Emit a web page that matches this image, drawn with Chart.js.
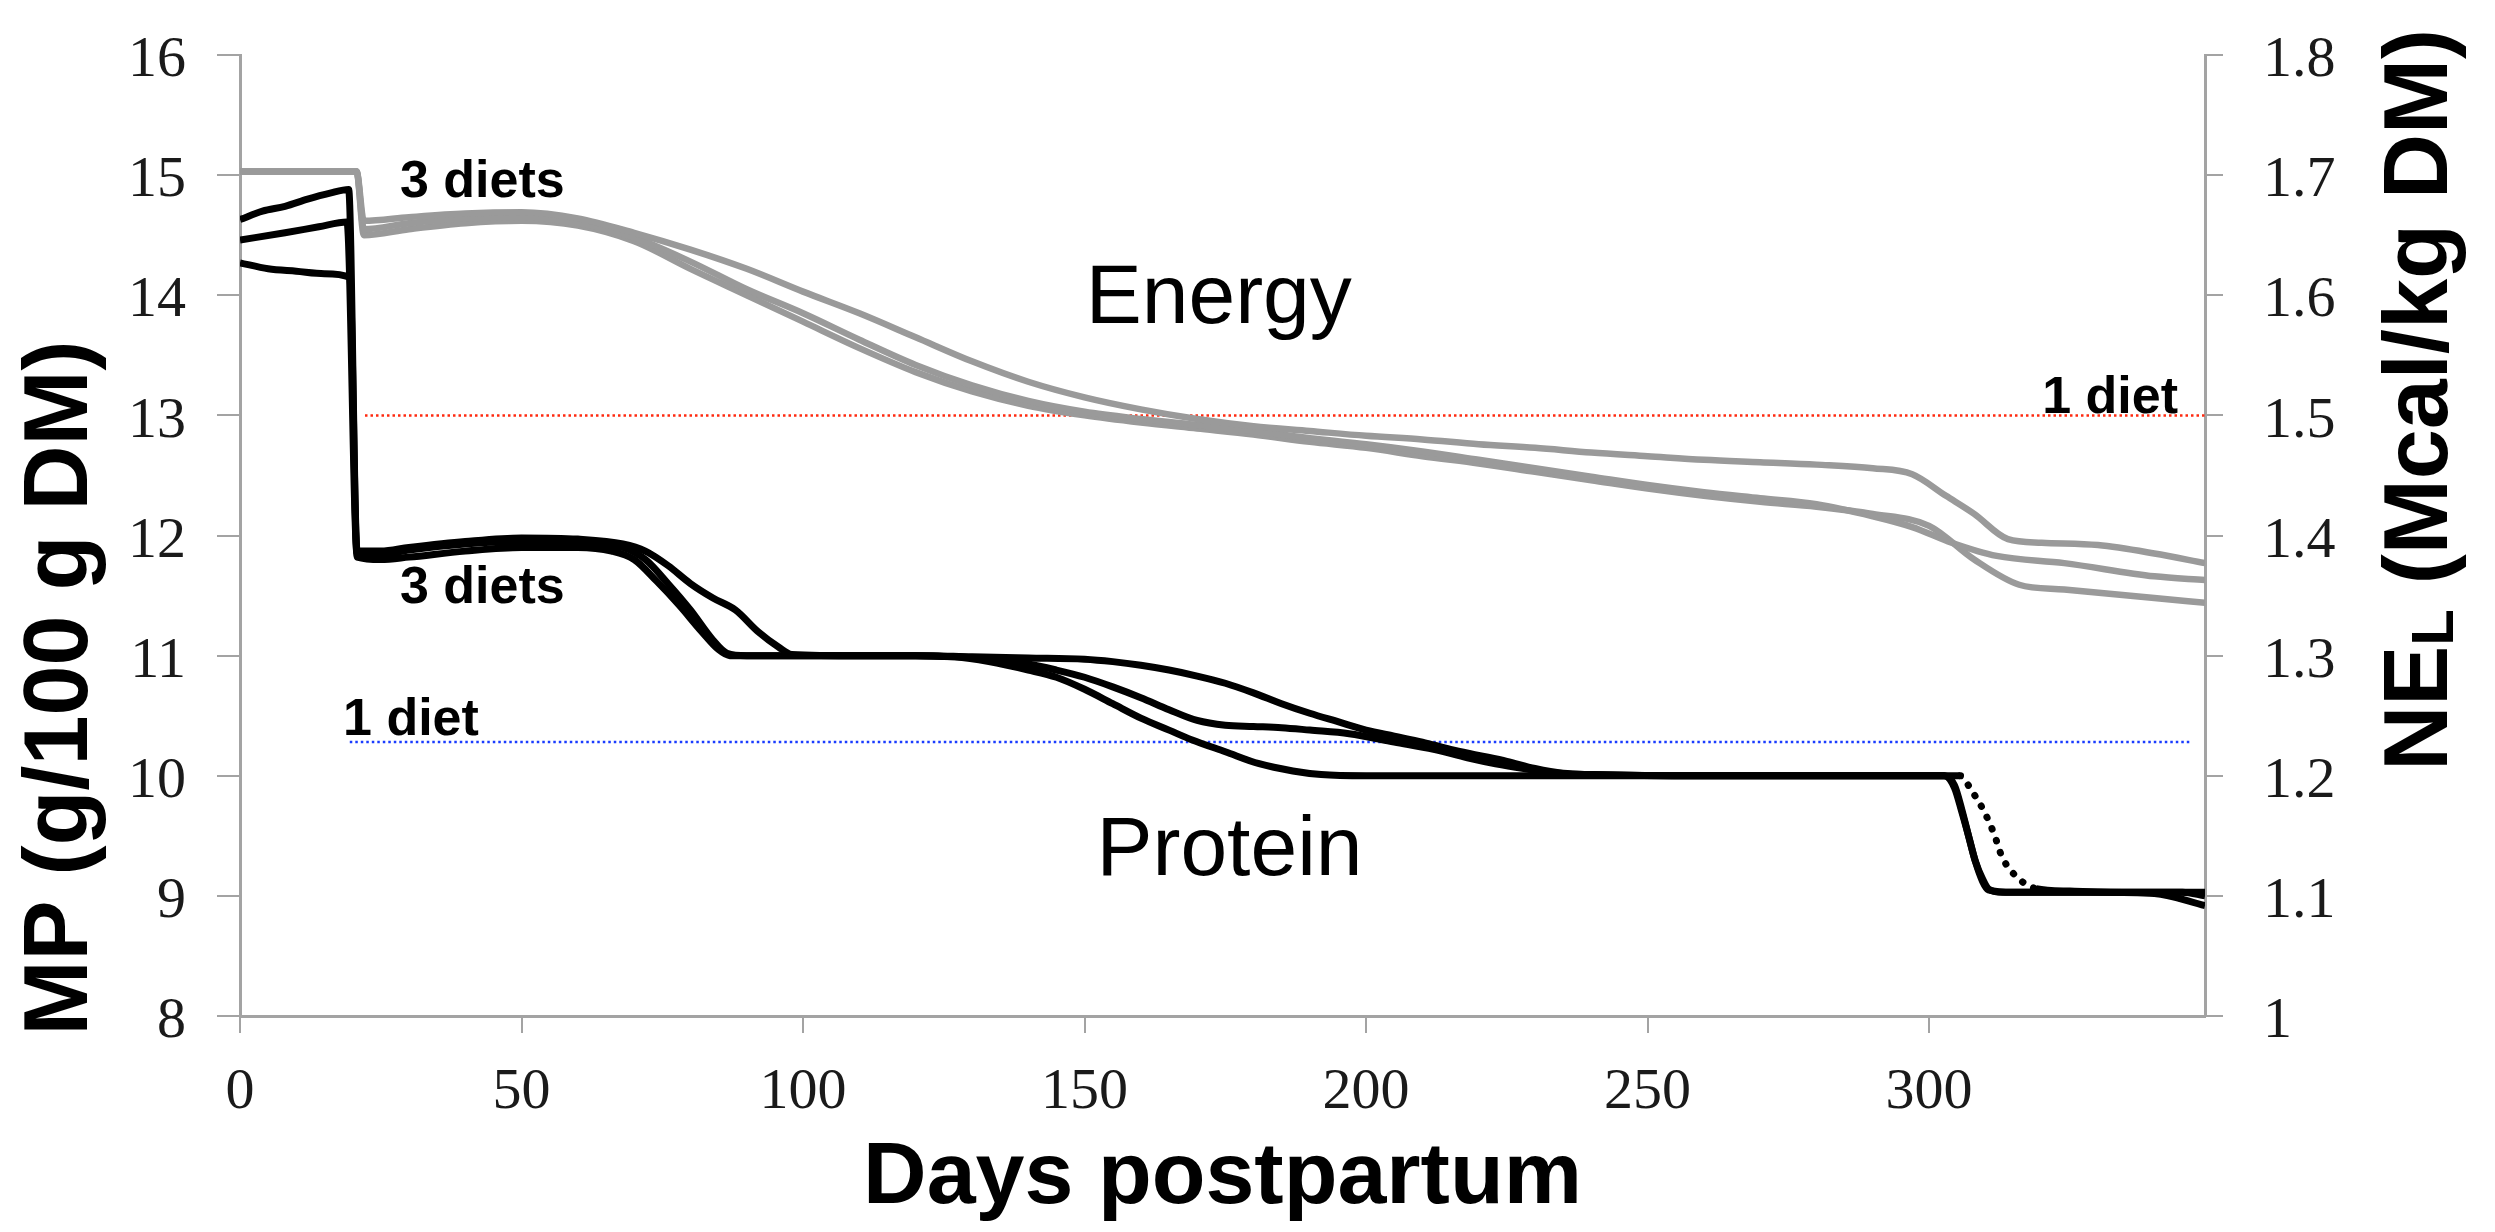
<!DOCTYPE html>
<html>
<head>
<meta charset="utf-8">
<script src="https://cdn.jsdelivr.net/npm/chart.js@4.4.1/dist/chart.umd.min.js"></script>
<style>
html,body{margin:0;padding:0;background:#fff;}
canvas{display:block;}
</style>
</head>
<body>
<canvas id="c" width="2495" height="1232"></canvas>
<script>
// ---------- DATA ----------
const xTicks = [0, 50, 100, 150, 200, 250, 300];
const leftTicks = [8, 9, 10, 11, 12, 13, 14, 15, 16];
const rightTicks = [1, 1.1, 1.2, 1.3, 1.4, 1.5, 1.6, 1.7, 1.8];

// Energy (NEL, Mcal/kg DM), three diets: [day, value]
const energyDiet1 = [[0,1.703],[20.7,1.703],[22,1.662],[30,1.665],[40,1.668],[50,1.669],[60,1.664],[70,1.652],[80,1.638],[90,1.622],[100,1.603],[110,1.585],[120,1.565],[130,1.545],[140,1.528],[150,1.515],[160,1.505],[170,1.497],[180,1.491],[190,1.487],[200,1.483],[210,1.48],[220,1.476],[230,1.473],[240,1.469],[250,1.466],[260,1.463],[270,1.461],[280,1.459],[290,1.456],[297,1.451],[303,1.433],[308,1.418],[314,1.397],[320,1.394],[330,1.392],[340,1.385],[349,1.377]];
const energyDiet2 = [[0,1.703],[20.7,1.703],[22,1.655],[30,1.66],[40,1.664],[50,1.665],[60,1.66],[70,1.648],[80,1.628],[90,1.605],[100,1.585],[110,1.563],[120,1.542],[130,1.525],[140,1.512],[150,1.503],[160,1.497],[170,1.492],[180,1.487],[190,1.481],[200,1.476],[210,1.47],[220,1.463],[230,1.456],[240,1.449],[250,1.442],[260,1.436],[270,1.431],[280,1.426],[290,1.416],[297,1.407],[304,1.394],[312,1.383],[324,1.377],[340,1.366],[349,1.363]];
const energyDiet3 = [[0,1.703],[20.7,1.703],[22,1.65],[30,1.655],[40,1.66],[50,1.662],[60,1.658],[70,1.645],[80,1.622],[90,1.6],[100,1.578],[110,1.556],[120,1.536],[130,1.52],[140,1.508],[150,1.5],[160,1.494],[170,1.489],[180,1.484],[190,1.478],[200,1.473],[210,1.466],[220,1.46],[230,1.453],[240,1.446],[250,1.439],[260,1.433],[270,1.428],[280,1.424],[290,1.418],[300,1.408],[308,1.38],[316,1.359],[324,1.355],[340,1.348],[349,1.344]];

// Protein (MP, g/100 g DM), three diets: [day, value]
const proteinDiet1 = [[0,14.63],[4,14.7],[8,14.74],[12,14.8],[16,14.85],[19.3,14.88],[20.8,11.87],[25,11.87],[30,11.9],[40,11.95],[50,11.98],[60,11.97],[68,11.93],[72,11.87],[76,11.75],[80,11.6],[84,11.48],[88,11.38],[92,11.2],[95.7,11.07],[98,11.01],[110,11.0],[120,11.0],[130,10.99],[140,10.98],[150,10.97],[155,10.95],[160,10.92],[165,10.88],[170,10.83],[175,10.77],[180,10.69],[185,10.6],[190,10.52],[195,10.45],[200,10.38],[205,10.33],[210,10.28],[215,10.22],[220,10.17],[225,10.12],[230,10.06],[235,10.02],[240,10.01],[260,10.0],[280,10.0],[300,10.0],[305.5,10.0],[307.5,9.88],[309.8,9.7],[311.5,9.52],[313,9.32],[316,9.14],[319,9.06],[325,9.04],[335,9.03],[345,9.03],[349,9.0]];
const proteinDiet2 = [[0,14.46],[8,14.52],[14,14.57],[19,14.61],[20.8,11.85],[25,11.84],[30,11.88],[40,11.93],[50,11.95],[60,11.94],[68,11.9],[72,11.8],[76,11.6],[80,11.38],[84,11.13],[86.5,11.02],[90,11.0],[100,11.0],[110,11.0],[120,11.0],[127,10.99],[133,10.97],[140,10.93],[145,10.88],[150,10.82],[155,10.74],[160,10.65],[165,10.55],[170,10.46],[175,10.42],[180,10.41],[185,10.4],[190,10.38],[197,10.35],[205,10.28],[212,10.22],[218,10.15],[223,10.1],[228,10.06],[234,10.02],[240,10.01],[260,10.0],[280,10.0],[302.7,10.0],[304.5,9.92],[305.8,9.72],[307,9.5],[308.2,9.29],[309.5,9.14],[310.5,9.06],[313,9.03],[320,9.03],[330,9.03],[340,9.02],[349,8.92]];
const proteinDiet3 = [[0,14.27],[5,14.22],[10,14.2],[15,14.18],[19.5,14.15],[20.8,11.82],[25,11.8],[30,11.82],[40,11.87],[50,11.9],[60,11.9],[66,11.87],[70,11.8],[74,11.62],[78,11.42],[82,11.2],[85,11.05],[87,11.0],[100,11.0],[110,11.0],[120,11.0],[127,10.99],[133,10.95],[140,10.88],[145,10.82],[150,10.72],[155,10.6],[160,10.48],[165,10.38],[169,10.3],[175,10.2],[181,10.1],[187,10.04],[192,10.01],[200,10.0],[250,10.0],[302.7,10.0],[304.5,9.9],[305.8,9.7],[307,9.5],[308.2,9.29],[309.5,9.12],[310.5,9.05],[315,9.03],[330,9.03],[349,9.03]];

// Single-diet reference levels: [day, value]
const oneDietEnergy = [[22.2,1.5],[349,1.5]];
const oneDietProtein = [[19.5,10.28],[346.5,10.28]];

// Text labels
const labelTexts = ['3 diets', '3 diets', '1 diet', '1 diet', 'Energy', 'Protein'];
const leftTitle = 'MP (g/100 g DM)';
const rightTitleParts = ['NE', 'L', ' (Mcal/kg DM)'];
const bottomTitle = 'Days postpartum';

// ---------- STYLE / LAYOUT ----------
const SANS = '"Liberation Sans", Arial, Helvetica, sans-serif';
const SERIF = '"Liberation Serif", "Times New Roman", serif';
const GRAY = '#9a9a9a';
const AXIS = '#a3a3a3';
const labelPlacement = [
  {day: 28.4, mp: 14.82, align: 'left', font: 'bold 52px ' + SANS},
  {day: 28.4, mp: 11.44, align: 'left', font: 'bold 52px ' + SANS},
  {day: 18.3, mp: 10.34, align: 'left', font: 'bold 52px ' + SANS},
  {day: 344.2, mp: 13.02, align: 'right', font: 'bold 52px ' + SANS},
  {day: 150.2, mp: 13.77, align: 'left', font: '84px ' + SANS},
  {day: 152.1, mp: 9.17, align: 'left', font: '84px ' + SANS}
];

const toXY = arr => arr.map(p => ({x: p[0], y: p[1]}));

const overlay = {
  id: 'overlay',
  afterDraw(chart) {
    const {ctx, scales} = chart;
    const sx = scales.x, sy = scales.y;
    ctx.save();
    ctx.fillStyle = '#000';
    ctx.textBaseline = 'alphabetic';
    labelTexts.forEach((t, i) => {
      const p = labelPlacement[i];
      ctx.font = p.font;
      ctx.textAlign = p.align;
      ctx.fillText(t, sx.getPixelForValue(p.day), sy.getPixelForValue(p.mp));
    });
    // left axis title
    ctx.save();
    ctx.font = 'bold 90px ' + SANS;
    ctx.textAlign = 'center';
    ctx.translate(87, 688);
    ctx.rotate(-Math.PI / 2);
    ctx.fillText(leftTitle, 0, 0);
    ctx.restore();
    // right axis title with subscript
    ctx.save();
    ctx.translate(2447, 400);
    ctx.rotate(-Math.PI / 2);
    ctx.textAlign = 'left';
    const fonts = ['bold 90px ' + SANS, 'bold 60px ' + SANS, 'bold 90px ' + SANS];
    const offs = [0, 6, 0];
    let widths = rightTitleParts.map((t, i) => { ctx.font = fonts[i]; return ctx.measureText(t).width; });
    const total = widths.reduce((a, b) => a + b, 0);
    let u = -total / 2;
    rightTitleParts.forEach((t, i) => {
      ctx.font = fonts[i];
      ctx.fillText(t, u, offs[i]);
      u += widths[i];
    });
    ctx.restore();
    ctx.restore();
  }
};

const fitV = w => s => { s.width = w; s.paddingTop = 0; s.paddingBottom = 0; };

const energyStyle = {borderColor: GRAY, borderWidth: 6.5, pointRadius: 0, cubicInterpolationMode: 'monotone', fill: false, yAxisID: 'y1'};
const proteinStyle = {borderColor: '#000', borderWidth: 7, pointRadius: 0, cubicInterpolationMode: 'monotone', fill: false, yAxisID: 'y'};

new Chart(document.getElementById('c'), {
  type: 'line',
  data: {
    datasets: [
      Object.assign({label: 'Energy diet 1', data: toXY(energyDiet1)}, energyStyle),
      Object.assign({label: 'Energy diet 2', data: toXY(energyDiet2)}, energyStyle),
      Object.assign({label: 'Energy diet 3', data: toXY(energyDiet3)}, energyStyle),
      Object.assign({label: 'Protein diet 1', data: toXY(proteinDiet1),
        segment: {
          borderDash: c => (c.p0.parsed.x >= 305 && c.p1.parsed.x <= 320) ? [0.5, 12] : undefined,
          borderCapStyle: c => (c.p0.parsed.x >= 305 && c.p1.parsed.x <= 320) ? 'round' : undefined
        }}, proteinStyle),
      Object.assign({label: 'Protein diet 2', data: toXY(proteinDiet2)}, proteinStyle),
      Object.assign({label: 'Protein diet 3', data: toXY(proteinDiet3)}, proteinStyle),
      {label: '1 diet energy', data: toXY(oneDietEnergy), yAxisID: 'y1', borderColor: '#ff2a10', borderWidth: 2.5, borderDash: [2.5, 3], pointRadius: 0, fill: false},
      {label: '1 diet protein', data: toXY(oneDietProtein), yAxisID: 'y', borderColor: '#1a3cff', borderWidth: 2.5, borderDash: [2.5, 3], pointRadius: 0, fill: false}
    ]
  },
  options: {
    responsive: false,
    animation: false,
    devicePixelRatio: 1,
    layout: {padding: {top: 55, left: 0, right: 0, bottom: 0}},
    plugins: {legend: {display: false}, tooltip: {enabled: false}},
    scales: {
      x: {
        type: 'linear', min: 0, max: 349,
        afterBuildTicks: s => { s.ticks = xTicks.map(v => ({value: v})); },
        afterFit: s => { s.height = 216; s.paddingLeft = 0; s.paddingRight = 0; },
        grid: {drawOnChartArea: false, drawTicks: true, tickLength: 17, color: AXIS, lineWidth: 2},
        border: {color: AXIS, width: 3},
        ticks: {font: {family: SERIF, size: 58}, color: '#1a1a1a', padding: 25, maxRotation: 0, callback: v => String(v)},
        title: {display: true, text: bottomTitle, color: '#000', font: {family: SANS, size: 88, weight: 'bold', lineHeight: 1.2}, padding: {top: 0, bottom: 0}}
      },
      y: {
        type: 'linear', position: 'left', min: 8, max: 16,
        afterBuildTicks: s => { s.ticks = leftTicks.map(v => ({value: v})); },
        afterFit: fitV(240),
        grid: {drawOnChartArea: false, drawTicks: true, tickLength: 23, color: AXIS, lineWidth: 2},
        border: {color: AXIS, width: 3},
        ticks: {font: {family: SERIF, size: 58}, color: '#1a1a1a', padding: 31, labelOffset: 6, callback: v => String(v)},
        title: {display: false, text: leftTitle}
      },
      y1: {
        type: 'linear', position: 'right', min: 1, max: 1.8,
        afterBuildTicks: s => { s.ticks = rightTicks.map(v => ({value: v})); },
        afterFit: fitV(290),
        grid: {drawOnChartArea: false, drawTicks: true, tickLength: 18, color: AXIS, lineWidth: 2},
        border: {color: AXIS, width: 3},
        ticks: {font: {family: SERIF, size: 58}, color: '#1a1a1a', padding: 40, labelOffset: 6, callback: v => String(v)},
        title: {display: false, text: 'NEL (Mcal/kg DM)'}
      }
    }
  },
  plugins: [overlay]
});
</script>
</body>
</html>
